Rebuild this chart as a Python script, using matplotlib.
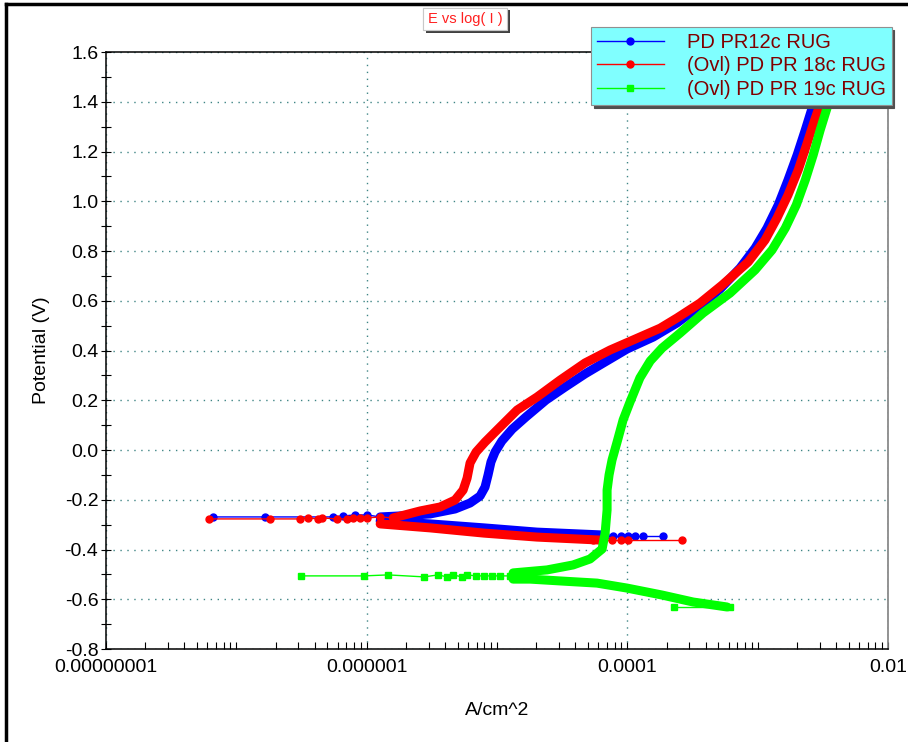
import numpy as np
import matplotlib.pyplot as plt
import matplotlib.patheffects as pe
from matplotlib.lines import Line2D
from matplotlib.ticker import FixedLocator, FixedFormatter, LogLocator, NullFormatter, MultipleLocator, FuncFormatter

plt.rcParams['font.family'] = ['Liberation Sans', 'DejaVu Sans']

# --- PD PR12c RUG (blue) ---
blue_an_i = [1.27e-6, 1.80e-6, 3.07e-6, 4.77e-6, 6.22e-6, 7.42e-6, 8.1e-6, 8.55e-6, 9.0e-6, 9.67e-6,
             1.09e-5, 1.31e-5, 1.67e-5, 2.38e-5, 3.33e-5, 4.74e-5, 6.76e-5, 9.96e-5, 1.58e-4, 2.41e-4,
             3.62e-4, 5.15e-4, 7.34e-4, 9.57e-4, 1.18e-3, 1.44e-3, 1.71e-3, 2.01e-3, 2.32e-3, 2.62e-3,
             3.30e-3]
blue_an_e = [-0.269, -0.265, -0.257, -0.237, -0.213, -0.185, -0.149, -0.100, -0.048, -0.008,
             0.036, 0.084, 0.133, 0.201, 0.253, 0.306, 0.354, 0.406, 0.454, 0.511,
             0.579, 0.647, 0.732, 0.812, 0.892, 0.985, 1.085, 1.186, 1.286, 1.375,
             1.600]
blue_cat_i = [1.27e-6, 3.07e-6, 7.96e-6, 2.03e-5, 6.76e-5]
blue_cat_e = [-0.285, -0.297, -0.313, -0.330, -0.342]
blue_lo_i = [6.6e-8, 1.66e-7, 5.52e-7, 6.59e-7, 8.15e-7, 1.01e-6, 1.27e-6]
blue_lo_e = [-0.269, -0.269, -0.269, -0.265, -0.261, -0.261, -0.269]
blue_hi_i = [6.76e-5, 7.78e-5, 8.96e-5, 1.01e-4, 1.15e-4, 1.32e-4, 1.88e-4]
blue_hi_e = [-0.346, -0.346, -0.346, -0.346, -0.346, -0.346, -0.346]

# --- (Ovl) PD PR 18c RUG (red) ---
red_an_i = [1.60e-6, 2.57e-6, 3.66e-6, 4.77e-6, 5.50e-6, 5.90e-6, 6.22e-6, 6.92e-6, 8.1e-6, 1.00e-5,
            1.43e-5, 2.03e-5, 3.05e-5, 4.74e-5, 7.38e-5, 1.15e-4, 1.79e-4, 2.41e-4, 3.62e-4, 5.34e-4,
            8.46e-4, 1.14e-3, 1.41e-3, 1.71e-3, 2.05e-3, 2.36e-3, 2.71e-3, 3.02e-3, 3.87e-3]
red_an_e = [-0.273, -0.245, -0.229, -0.201, -0.161, -0.113, -0.052, -0.008, 0.032, 0.080,
            0.161, 0.213, 0.281, 0.350, 0.402, 0.446, 0.490, 0.531, 0.591, 0.663,
            0.756, 0.844, 0.933, 1.025, 1.126, 1.222, 1.319, 1.391, 1.600]
red_cat_i = [1.27e-6, 3.07e-6, 7.96e-6, 2.03e-5, 6.18e-5]
red_cat_e = [-0.297, -0.313, -0.334, -0.350, -0.362]
red_lo_i = [6.2e-8, 1.81e-7, 3.08e-7, 3.55e-7, 4.24e-7, 4.55e-7, 5.93e-7, 7.08e-7, 7.86e-7, 8.9e-7,
            1.01e-6, 1.27e-6, 1.60e-6]
red_lo_e = [-0.277, -0.277, -0.277, -0.273, -0.277, -0.273, -0.277, -0.277, -0.273, -0.273,
            -0.273, -0.269, -0.273]
red_hi_i = [5.47e-5, 6.18e-5, 7.64e-5, 8.96e-5, 1.01e-4, 2.64e-4]
red_hi_e = [-0.362, -0.362, -0.362, -0.362, -0.362, -0.362]

# --- (Ovl) PD PR 19c RUG (green) ---
green_an_i = [1.33e-5, 2.42e-5, 3.84e-5, 5.18e-5, 6.41e-5, 6.76e-5, 7.0e-5, 7.0e-5, 7.25e-5, 7.64e-5,
              8.35e-5, 9.29e-5, 1.05e-4, 1.25e-4, 1.50e-4, 1.85e-4, 2.54e-4, 3.82e-4, 6.15e-4, 9.57e-4,
              1.29e-3, 1.63e-3, 1.98e-3, 2.32e-3, 2.67e-3, 3.02e-3, 3.41e-3, 4.45e-3]
green_an_e = [-0.494, -0.482, -0.462, -0.438, -0.398, -0.334, -0.241, -0.161, -0.100, -0.040,
              0.032, 0.121, 0.193, 0.290, 0.358, 0.410, 0.470, 0.551, 0.631, 0.724,
              0.804, 0.892, 0.985, 1.085, 1.186, 1.286, 1.375, 1.600]
green_cat_i = [1.33e-5, 1.80e-5, 3.21e-5, 5.86e-5, 9.96e-5, 1.85e-4, 3.20e-4, 5.83e-4]
green_cat_e = [-0.519, -0.519, -0.527, -0.535, -0.555, -0.583, -0.611, -0.631]
green_lo_i = [3.14e-7, 9.55e-7, 1.46e-6, 2.76e-6, 3.53e-6, 4.14e-6, 4.60e-6, 5.40e-6, 5.90e-6, 6.92e-6,
              7.96e-6, 9.17e-6, 1.06e-5, 1.26e-5]
green_lo_e = [-0.506, -0.506, -0.502, -0.510, -0.502, -0.510, -0.502, -0.510, -0.502, -0.506,
              -0.506, -0.506, -0.506, -0.506]
green_hi_i = [2.29e-4, 6.15e-4]
green_hi_e = [-0.631, -0.631]

labels = ['PD PR12c RUG', '(Ovl) PD PR 18c RUG', '(Ovl) PD PR 19c RUG']
x_ticks = [1e-8, 1e-6, 1e-4, 1e-2]
x_ticklabels = ['0.00000001', '0.000001', '0.0001', '0.01']

BLUE, RED, GREEN = '#0000ff', '#ff0000', '#00ff00'

fig = plt.figure(figsize=(9.08, 7.42), dpi=100)
ax = fig.add_axes([0.1167, 0.1253, 0.8612, 0.8046])

series = [
    (blue_an_i, blue_an_e, blue_cat_i, blue_cat_e, blue_lo_i, blue_lo_e, blue_hi_i, blue_hi_e, BLUE, 'o', 5),
    (red_an_i, red_an_e, red_cat_i, red_cat_e, red_lo_i, red_lo_e, red_hi_i, red_hi_e, RED, 'o', 5),
    (green_an_i, green_an_e, green_cat_i, green_cat_e, green_lo_i, green_lo_e, green_hi_i, green_hi_e, GREEN, 's', 4.5),
]
handles = []
for k, (ai, ae, ci, ce, li, le, hi, he, col, mk, ms) in enumerate(series):
    z = 2 + k * 0.1
    # dense parts of the scan look like a thick band
    ax.plot(ai, ae, color=col, lw=6.5, solid_capstyle='round', solid_joinstyle='round', zorder=z)
    ax.plot(ci, ce, color=col, lw=6.5, solid_capstyle='round', solid_joinstyle='round', zorder=z)
    ax.plot(li, le, color=col, lw=1, marker=mk, ms=ms, zorder=z)
    ax.plot(hi, he, color=col, lw=1, marker=mk, ms=ms, zorder=z)
    handles.append(Line2D([], [], color=col, lw=1, marker=mk, ms=ms, label=labels[k]))

ax.set_xscale('log')
ax.set_xlim(1e-8, 1e-2)
ax.set_ylim(-0.8, 1.6)
ax.xaxis.set_major_locator(FixedLocator(x_ticks))
ax.xaxis.set_major_formatter(FixedFormatter(x_ticklabels))
ax.xaxis.set_minor_locator(LogLocator(base=10, subs=np.arange(1, 10), numticks=30))
ax.xaxis.set_minor_formatter(NullFormatter())
ax.yaxis.set_major_locator(MultipleLocator(0.2))
ax.yaxis.set_minor_locator(MultipleLocator(0.1))
ax.yaxis.set_major_formatter(FuncFormatter(lambda v, p: f'{v:.1f}'.replace('-0.0', '0.0')))

ax.tick_params(axis='x', which='both', direction='in', length=5, width=0.8, labelsize=14, pad=7)
ax.tick_params(axis='y', which='both', direction='inout', length=7, width=0.8, labelsize=14, pad=2)
ax.grid(True, which='major', color='#3f8585', linestyle=(0, (1, 4)), lw=1)

for s in ['left', 'bottom', 'top']:
    ax.spines[s].set_color('black')
    ax.spines[s].set_linewidth(1.1)
ax.spines['right'].set_color('#808080')
ax.spines['right'].set_linewidth(1.2)

ax.set_xlabel('A/cm^2', fontsize=14)
ax.set_ylabel('Potential (V)', fontsize=14)
ax.xaxis.set_label_coords(0.5, -0.088)
ax.yaxis.set_label_coords(-0.072, 0.5)

leg = ax.legend(handles=handles, loc='upper left', bbox_to_anchor=(0.651, 0.9636),
                bbox_transform=fig.transFigure, fontsize=14.5, labelcolor='#800000',
                frameon=True, fancybox=False, framealpha=1, facecolor='#80ffff',
                edgecolor='#909090', handlelength=3.3, handletextpad=1.15, labelspacing=0.22,
                borderpad=0.3, borderaxespad=0, numpoints=1,
                shadow={'color': '#505050', 'alpha': 1})
leg.get_frame().set_linewidth(0.8)

t = fig.text(0.5122, 0.9745, 'E vs log( I )', ha='center', va='center', color='#ff2020',
             fontsize=10.5, bbox=dict(boxstyle='square,pad=0.3', fc='white', ec='#c8c8c8', lw=0.8))
t.get_bbox_patch().set_path_effects([pe.withSimplePatchShadow(offset=(2, -2), shadow_rgbFace='#404040', alpha=1), pe.Normal()])

# window frame edges
fig.add_artist(Line2D([0.0066, 0.0066], [0, 0.995], transform=fig.transFigure, color='black', lw=2.5))
fig.add_artist(Line2D([0.0066, 1], [0.9946, 0.9946], transform=fig.transFigure, color='black', lw=2.5))

fig.savefig('out.png', dpi=100)
